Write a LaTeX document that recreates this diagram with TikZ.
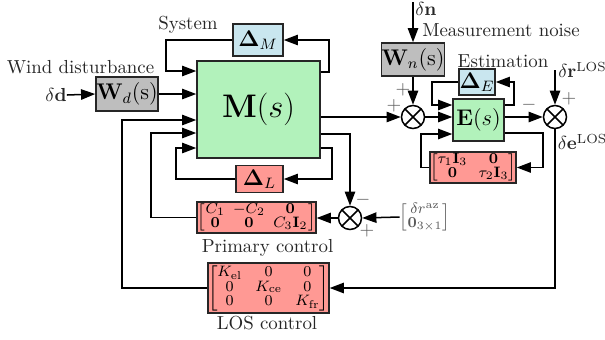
\documentclass[tikz,border=0pt]{standalone}
\usepackage{amsmath,amssymb}
\usetikzlibrary{arrows.meta,calc}
\definecolor{mgreen}{RGB}{178,242,187}
\definecolor{mblue}{RGB}{201,230,239}
\definecolor{mred}{RGB}{255,153,148}
\definecolor{mgray}{RGB}{190,190,190}
\begin{document}
\begin{tikzpicture}[x=0.53pt,y=-0.53pt,
  blk/.style={draw=black!85, line width=0.8pt, inner sep=0pt, anchor=center},
  arr/.style={-{Triangle[length=7.5pt,width=5.5pt]}, line width=0.8pt},
  lbl/.style={inner sep=0pt, anchor=center, text=black!85},
  sgn/.style={inner sep=0pt, anchor=center, text=black!65},
  sumn/.style={circle, draw, line width=0.8pt, minimum size=12.2pt, inner sep=0pt, fill=white,
    path picture={\draw[line width=0.8pt] (path picture bounding box.north west) -- (path picture bounding box.south east)
      (path picture bounding box.north east) -- (path picture bounding box.south west);}}
]
\useasboundingbox (0,0) rectangle (605,339);
% system
\node[blk,fill=mgreen,minimum width=65.2pt,minimum height=51.4pt,font=\fontsize{16}{18}\selectfont] (M) at (258.5,109.5) {$\mathbf{M}(s)$};
\node[blk,fill=mblue,minimum width=26.5pt,minimum height=17pt,font=\large] (DM) at (258,40) {$\boldsymbol{\Delta}_M$};
\node[lbl] (sys) at (188,25) {System};
\node[lbl] (wind) at (80.5,67) {Wind disturbance};
\node[lbl] (dd) at (56,95) {$\delta\mathbf{d}$};
\node[blk,fill=mgray,minimum width=32.9pt,minimum height=18pt,font=\large] (Wd) at (127,94) {$\mathbf{W}_d(\mathrm{s})$};
\node[blk,fill=mred,minimum width=24.9pt,minimum height=14.3pt,font=\large] (DL) at (259.5,179) {$\boldsymbol{\Delta}_L$};
\node[blk,fill=mred,minimum width=59.9pt,minimum height=16.4pt,font=\footnotesize] (PC) at (256.5,217.5)
  {\def\arraystretch{0.75}\arraycolsep=2.2pt\relax$\left[\begin{array}{@{\hspace{0.5pt}}ccc@{\hspace{0.5pt}}} C_1 & -C_2 & \mathbf{0}\\ \mathbf{0} & \mathbf{0} & C_3\mathbf{I}_2 \end{array}\right]$};
\node[lbl] (pclbl) at (267.5,248) {Primary control};
\node[sumn] (ps) at (350,218) {};
\node[lbl,text=black!65,font=\footnotesize] (ref) at (425,217)
  {\def\arraystretch{0.75}$\left[\begin{array}{@{}c@{}} \delta r^{\mathrm{az}}\\ \mathbf{0}_{3\times1} \end{array}\right]$};
\node[blk,fill=mred,minimum width=62pt,minimum height=26.5pt,font=\footnotesize] (LC) at (268.5,288)
  {\def\arraystretch{0.8}\arraycolsep=3.5pt\relax$\left[\begin{array}{@{}ccc@{}} K_{\mathrm{el}} & 0 & 0\\ 0 & K_{\mathrm{ce}} & 0\\ 0 & 0 & K_{\mathrm{fr}} \end{array}\right]$};
\node[lbl] (lclbl) at (267,323.5) {LOS control};
% measurement
\node[sumn] (ns) at (413,117) {};
\node[blk,fill=mgray,minimum width=33.4pt,minimum height=17.5pt,font=\large] (Wn) at (413,59.5) {$\mathbf{W}_n(\mathrm{s})$};
\coordinate (ntop) at (413,2);
\node[lbl,anchor=west] (dn) at (415,9) {$\delta\mathbf{n}$};
\node[lbl] (mnoise) at (501,30) {Measurement noise};
\node[blk,fill=mgreen,minimum width=27pt,minimum height=22.3pt,font=\fontsize{11.5}{13}\selectfont] (E) at (478.5,120) {$\mathbf{E}(s)$};
\node[lbl] (est) at (503,61) {Estimation};
\node[blk,fill=mblue,minimum width=19.1pt,minimum height=13.8pt,font=\large] (DE) at (477,82) {$\boldsymbol{\Delta}_E$};
\node[blk,fill=mred,minimum width=43.5pt,minimum height=16.4pt,font=\footnotesize] (TAU) at (473,167.5)
  {\def\arraystretch{0.75}\arraycolsep=3pt\relax$\left[\begin{array}{@{}cc@{}} \tau_1\mathbf{I}_3 & \mathbf{0}\\ \mathbf{0} & \tau_2\mathbf{I}_3 \end{array}\right]$};
\node[sumn] (ls) at (555,117) {};
\coordinate (rtop) at (555,70);
\node[lbl,anchor=west] (dr) at (558,70) {$\delta\mathbf{r}^{\mathrm{LOS}}$};
\node[lbl,anchor=west] (de) at (557.5,142) {$\delta\mathbf{e}^{\mathrm{LOS}}$};
% signs
\node[sgn] at (403,90) {$+$};
\node[sgn] at (394,106) {$+$};
\node[sgn] at (529,105) {$-$};
\node[sgn] at (569,99) {$+$};
\node[sgn] at (363,200) {$-$};
\node[sgn] at (367,231) {$+$};
% connectors
\draw[arr] (M.east|-0,72) -- (329,72) |- (DM.east);
\draw[arr] (DM.west) -| (166,71) -- (M.west|-0,71);
\draw[arr] (dd.east) -- (Wd.west);
\draw[arr] (Wd.east) -- (M.west|-Wd.east);
\draw[arr] (M.east|-0,117) -- (ns.west);
\draw[arr] (M.east|-0,134) -| (ps.north);
\draw[arr] (M.east|-0,148) -- (332,148) |- (DL.east);
\draw[arr] (DL.west) -| (176,148) -- (M.west|-0,148);
\draw[arr] (ref.west) -- (ps.east);
\draw[arr] (ps.west) -- (PC.east|-ps.west);
\draw[arr] (PC.west) -| (151,133) -- (M.west|-0,133);
\draw[arr] (ntop) -- (Wn.north);
\draw[arr] (Wn.south) -- (ns.north);
\draw[arr] (ns.east) -- (E.west|-ns.east);
\draw[arr] (E.east|-0,105) -- (514,105) |- (DE.east);
\draw[arr] (DE.west) -| (432,105) -- (E.west|-0,105);
\draw[arr] (E.east|-ls.west) -- (ls.west);
\draw[arr] (E.east|-0,133) -- (543,133) |- (TAU.east);
\draw[arr] (TAU.west) -| (421,134) -- (E.west|-0,134);
\draw[arr] (rtop) -- (ls.north);
\draw[arr] (ls.south) |- (LC.east);
\draw[arr] (LC.west) -| (122,120) -- (M.west|-0,120);
\end{tikzpicture}
\end{document}
